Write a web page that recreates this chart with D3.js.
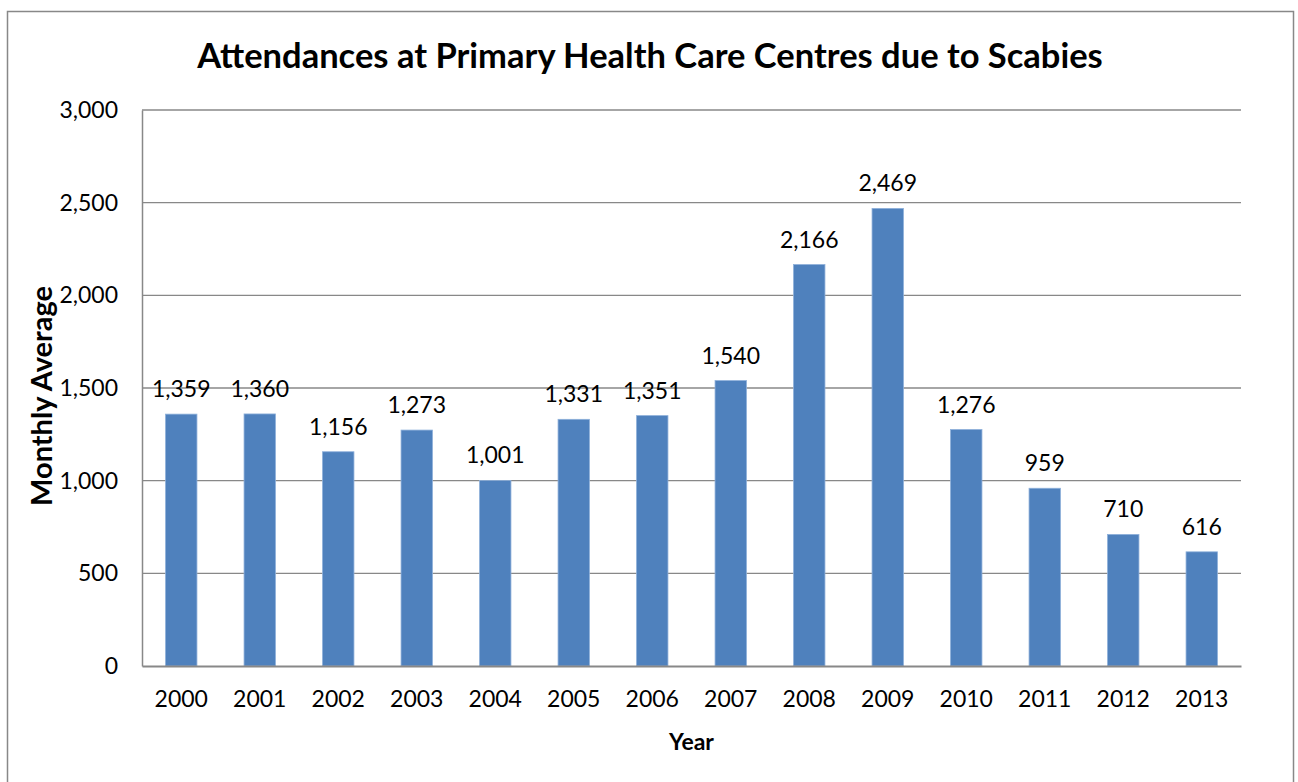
<!DOCTYPE html>
<html>
<head>
<meta charset="utf-8">
<script src="https://cdn.jsdelivr.net/npm/d3@7"></script>
<style>
  body { margin: 0; background: #fff; }
  svg { display: block; font-family: Lato, "Open Sans", sans-serif; }
</style>
</head>
<body>
<div id="chart"></div>
<script>
// data
var years = ["2000", "2001", "2002", "2003", "2004", "2005", "2006", "2007", "2008", "2009", "2010", "2011", "2012", "2013"];
var attendances = [1359, 1360, 1156, 1273, 1001, 1331, 1351, 1540, 2166, 2469, 1276, 959, 710, 616];
var yTicks = [0, 500, 1000, 1500, 2000, 2500, 3000];

var width = 1298, height = 782;
var mLeft = 142, mRight = 1241, mTop = 110, mBottom = 666;

var svg = d3.select("#chart").append("svg")
  .attr("width", width)
  .attr("height", height);

// outer frame
svg.append("rect")
  .attr("x", 7.5).attr("y", 11.5)
  .attr("width", 1286).attr("height", 790)
  .attr("fill", "#fff")
  .attr("stroke", "#888").attr("stroke-width", 1.5);

var x = d3.scaleBand().domain(years).range([mLeft, mRight]).paddingInner(0.6).paddingOuter(0.3);
var y = d3.scaleLinear().domain([0, 3000]).range([mBottom, mTop]);
var fmt = d3.format(",");

// gridlines
svg.append("g")
  .selectAll("line")
  .data(yTicks.slice(1))
  .join("line")
  .attr("x1", mLeft).attr("x2", mRight)
  .attr("y1", d => y(d)).attr("y2", d => y(d))
  .attr("stroke", "#888").attr("stroke-width", 1.3);

// bars
svg.append("g")
  .selectAll("rect")
  .data(attendances)
  .join("rect")
  .attr("x", (d, i) => x(years[i]))
  .attr("y", d => y(d))
  .attr("width", x.bandwidth())
  .attr("height", d => mBottom - y(d))
  .attr("fill", "#4F81BD")
  .attr("stroke", "#8EB0DA").attr("stroke-width", 0.8);

// data labels
svg.append("g")
  .selectAll("text")
  .data(attendances)
  .join("text")
  .attr("x", (d, i) => x(years[i]) + x.bandwidth() / 2)
  .attr("y", d => y(d) - 17)
  .attr("text-anchor", "middle")
  .style("font-size", "23px")
  .attr("fill", "#000")
  .text(d => fmt(d));

// y axis
var yAxis = svg.append("g")
  .attr("transform", "translate(" + mLeft + ",0)")
  .call(d3.axisLeft(y).tickValues(yTicks).tickFormat(fmt).tickSize(0).tickPadding(24));
yAxis.select(".domain").attr("stroke", "#888").attr("stroke-width", 1.5);
yAxis.selectAll("text").style("font-size", "23px").attr("fill", "#000").attr("font-family", "Lato, 'Open Sans', sans-serif");

// x axis
var xAxis = svg.append("g")
  .attr("transform", "translate(0," + mBottom + ")")
  .call(d3.axisBottom(x).tickSize(0).tickPadding(25));
xAxis.select(".domain").attr("stroke", "#888").attr("stroke-width", 2);
xAxis.selectAll("text").style("font-size", "23px").attr("fill", "#000").attr("font-family", "Lato, 'Open Sans', sans-serif");

// titles
svg.append("text")
  .attr("x", 650).attr("y", 68)
  .attr("text-anchor", "middle")
  .style("font-size", "34.5px").style("font-weight", "bold")
  .text("Attendances at Primary Health Care Centres due to Scabies");

svg.append("text")
  .attr("transform", "translate(52,396) rotate(-90)")
  .attr("text-anchor", "middle")
  .style("font-size", "29px").style("font-weight", "bold")
  .text("Monthly Average");

svg.append("text")
  .attr("x", (mLeft + mRight) / 2).attr("y", 750)
  .attr("text-anchor", "middle")
  .style("font-size", "23px").style("font-weight", "bold")
  .text("Year");
</script>
</body>
</html>
